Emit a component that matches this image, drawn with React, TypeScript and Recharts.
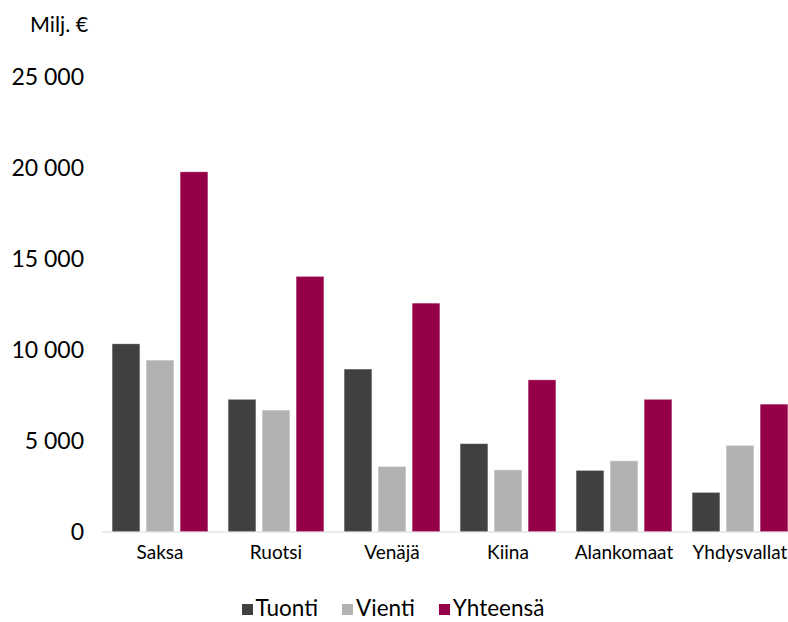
import React from "react";
import { BarChart, Bar, XAxis, YAxis, Legend } from "recharts";

const countries = ["Saksa", "Ruotsi", "Venäjä", "Kiina", "Alankomaat", "Yhdysvallat"];
const tuonti = [10350, 7300, 8960, 4860, 3390, 2180];
const vienti = [9450, 6700, 3610, 3420, 3920, 4760];
const yhteensa = [19800, 14050, 12580, 8370, 7300, 7030];
const yTicks = [0, 5000, 10000, 15000, 20000, 25000];
const seriesNames = ["Tuonti", "Vienti", "Yhteensä"] as const;

const data = countries.map((name, i) => ({
  name,
  Tuonti: tuonti[i],
  Vienti: vienti[i],
  Yhteensä: yhteensa[i],
}));

const COLORS = { Tuonti: "#404040", Vienti: "#b2b2b2", Yhteensä: "#960048" };
const FONT = "Lato, 'Noto Sans', sans-serif";

const fmt = (v: number) => String(v).replace(/\B(?=(\d{3})+(?!\d))/g, " ");

const LegendContent = () => (
  <div
    style={{
      height: 50,
      display: "flex",
      justifyContent: "center",
      alignItems: "flex-end",
      gap: 24,
      fontSize: 22.5,
      fontFamily: FONT,
      color: "#000",
      paddingRight: 12,
      boxSizing: "border-box",
      paddingBottom: 1,
    }}
  >
    {seriesNames.map((k) => (
      <div key={k} style={{ display: "flex", alignItems: "center", gap: 3, lineHeight: "27px" }}>
        <span style={{ width: 11, height: 11, background: COLORS[k], display: "inline-block", marginTop: 4 }} />
        <span>{k}</span>
      </div>
    ))}
  </div>
);

const App = () => {
  return (
    <div style={{ position: "absolute", left: 0, top: 0, width: 800, height: 622, fontFamily: FONT, background: "#fff" }}>
      <div style={{ position: "absolute", left: 30, top: 11, fontSize: 21.5, color: "#000" }}>Milj. €</div>
      <BarChart
        width={800}
        height={622}
        data={data}
        margin={{ top: 77, right: 2, bottom: 0, left: 0 }}
        barSize={28}
        barGap={6}
      >
        <XAxis
          dataKey="name"
          axisLine={{ stroke: "#d9d9d9" }}
          tickLine={false}
          tick={{ fill: "#000", fontSize: 19, fontFamily: FONT }}
          tickMargin={8}
          height={40}
        />
        <YAxis
          domain={[0, 25000]}
          ticks={yTicks}
          tickFormatter={fmt}
          axisLine={false}
          tickLine={false}
          width={102}
          tickMargin={12}
          tick={{ fill: "#000", fontSize: 23, fontFamily: FONT }}
        />
        <Legend verticalAlign="bottom" height={50} content={<LegendContent />} />
        {seriesNames.map((k) => (
          <Bar key={k} dataKey={k} fill={COLORS[k]} stroke="#ffffff" strokeOpacity={0.6} isAnimationActive={false} />
        ))}
      </BarChart>
    </div>
  );
};

export default App;
